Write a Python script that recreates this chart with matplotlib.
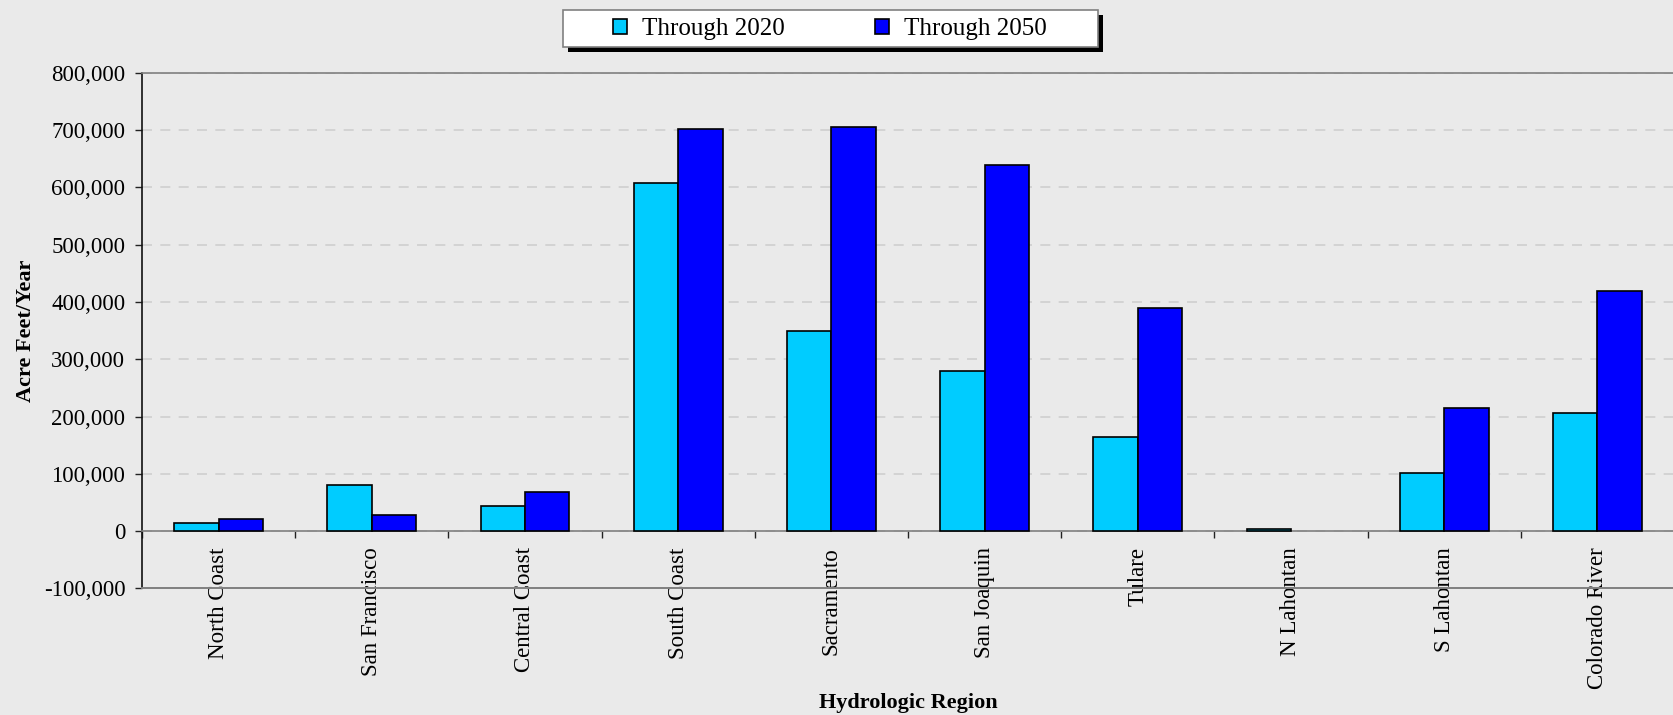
import matplotlib
matplotlib.use("Agg")
import matplotlib.pyplot as plt
import numpy as np
from matplotlib.ticker import FuncFormatter, FixedLocator
from matplotlib.patches import Rectangle

# datos
regiones = ["North Coast", "San Francisco", "Central Coast", "South Coast", "Sacramento",
            "San Joaquin", "Tulare", "N Lahontan", "S Lahontan", "Colorado River"]
hasta_2020 = [15000, 80000, 44000, 607000, 350000, 279000, 164000, 3000, 102000, 206000]
hasta_2050 = [21000, 28000, 69000, 702000, 705000, 640000, 390000, np.nan, 215000, 420000]
series = ["Through 2020", "Through 2050"]
colores = ["#00CCFF", "#0000FF"]

plt.rcParams["font.family"] = ["Liberation Serif", "DejaVu Serif"]
fondo = "#EAEAEA"
gris = "#808080"

fig = plt.figure(figsize=(16.74, 7.15), dpi=100, facecolor=fondo)
ax = fig.add_axes([0.0848, 0.177, 0.9152, 0.721])
ax.set_facecolor(fondo)

x = np.arange(len(regiones))
ancho = 0.29
ax.bar(x - ancho / 2, hasta_2020, ancho, color=colores[0], edgecolor="black", linewidth=1.2,
       label=series[0], zorder=3)
ax.bar(x + ancho / 2, hasta_2050, ancho, color=colores[1], edgecolor="black", linewidth=1.2,
       label=series[1], zorder=3)

ax.set_xlim(-0.5, len(regiones) - 0.5)
ax.set_ylim(-100000, 800000)
ax.yaxis.set_major_locator(FixedLocator(np.arange(-100000, 800001, 100000)))
ax.yaxis.set_major_formatter(FuncFormatter(lambda v, p: f"{v:,.0f}"))

# ejes tipo excel: eje de categorias cruzando en cero
ax.spines["bottom"].set_position(("data", 0))
ax.spines["bottom"].set_color(gris)
ax.spines["top"].set_color(gris)
ax.spines["right"].set_visible(False)
ax.spines["left"].set_color("#111111")
for s in ["bottom", "top", "left"]:
    ax.spines[s].set_linewidth(1.2)
ax.axhline(-100000, color=gris, linewidth=1.4, clip_on=False, zorder=4)

ax.set_xticks(np.arange(len(regiones) + 1) - 0.5)
ax.set_xticklabels([])
ax.set_xticks(x, minor=True)
ax.set_xticklabels(regiones, minor=True, rotation=90, fontsize=16.5, va="top", ha="center")
ax.tick_params(axis="x", which="major", length=5, width=1, color="#222222", direction="out")
ax.tick_params(axis="x", which="minor", length=0, pad=11.5)
ax.tick_params(axis="y", length=5, width=1, color="#222222", labelsize=16.5, pad=7)

ax.grid(axis="y", color="#CFCFCF", linestyle=(0, (6, 5)), linewidth=1.2)
ax.set_axisbelow(True)

ax.set_ylabel("Acre Feet/Year", fontsize=16, fontweight="bold")
ax.yaxis.set_label_coords(-0.069, 0.5)
fig.text(0.5424, 1 - 703 / 715, "Hydrologic Region", fontsize=16, fontweight="bold",
         ha="center", va="center")

# caja de leyenda con sombra
x0, y0, w, h = 563 / 1674, 1 - 47 / 715, 535 / 1674, 37 / 715
fig.patches.append(Rectangle((x0 + 5 / 1674, y0 - 5 / 715), w, h, transform=fig.transFigure,
                             facecolor="black", edgecolor="none", zorder=1))
fig.patches.append(Rectangle((x0, y0), w, h, transform=fig.transFigure,
                             facecolor="white", edgecolor=gris, linewidth=1.2, zorder=2))
fig.legend(loc="center", bbox_to_anchor=(0.4958, 0.9594), ncol=2, frameon=False,
           fontsize=18, handlelength=0.55, handleheight=0.55, handletextpad=0.6,
           columnspacing=3.6, borderpad=0.2)

fig.savefig("out.png", dpi=100, facecolor=fondo)
